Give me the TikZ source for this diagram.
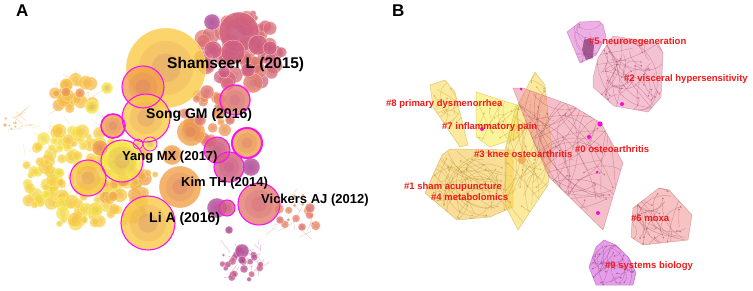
\documentclass[tikz,border=0pt]{standalone}
\usepackage{fontspec}
\setmainfont{Liberation Sans}
\definecolor{yl}{HTML}{F6E84C}
\definecolor{gd}{HTML}{FACB48}
\definecolor{og}{HTML}{F2A24A}
\definecolor{sa}{HTML}{E47E6E}
\definecolor{pk}{HTML}{D2607E}
\definecolor{pu}{HTML}{B24E98}
\definecolor{ring}{HTML}{FF10F0}
\definecolor{lblred}{HTML}{F21A1A}
\definecolor{hy}{HTML}{F8D850}
\definecolor{ho}{HTML}{F5C444}
\definecolor{hb}{HTML}{F8EC48}
\definecolor{hp}{HTML}{EE8C9C}
\definecolor{hr}{HTML}{EC90B0}
\definecolor{hv}{HTML}{E070D0}
\definecolor{hs}{HTML}{F09090}
\definecolor{hm}{HTML}{D050D8}
\tikzset{
  hot/.style={draw=ring, line width=1.1pt},
  cite/.style={font=\bfseries\fontsize{13}{13}\selectfont, text=black, inner sep=0pt, anchor=west},
  clus/.style={font=\bfseries\fontsize{9.5}{10}\selectfont, text=lblred, inner sep=0pt, anchor=west},
  panel/.style={font=\bfseries\fontsize{17}{17}\selectfont, inner sep=0pt, anchor=west},
}
% one cited paper: rings of citation years
\newcommand{\bub}[4]{%
  \fill[#4, fill opacity=0.8] (#1,#2) circle (#3pt);
  \fill[#4!70!pu, fill opacity=0.3] (#1,#2) circle ({0.68*#3pt});
  \fill[#4!50!pu, fill opacity=0.3] (#1,#2) circle ({0.36*#3pt});
  \draw[white, opacity=0.6, line width=0.4pt] (#1,#2) circle (#3pt);}
% cloud of small papers
\newcommand{\spray}[9]{%
  \foreach \k in {1,...,#5}{%
    \pgfmathsetmacro{\aa}{360*rnd}%
    \pgfmathsetmacro{\dd}{sqrt(rnd)}%
    \pgfmathsetmacro{\rr}{#6+(#7-#6)*rnd}%
    \pgfmathtruncatemacro{\mx}{100*rnd}%
    \fill[#8!\mx!#9, fill opacity=0.75] ({#1+#3*\dd*cos(\aa)},{#2+#4*\dd*sin(\aa)}) circle (\rr pt);
    \fill[#8!\mx!#9!75!pu, fill opacity=0.25] ({#1+#3*\dd*cos(\aa)},{#2+#4*\dd*sin(\aa)}) circle ({0.5*\rr pt});
    \draw[white, opacity=0.5, line width=0.3pt] ({#1+#3*\dd*cos(\aa)},{#2+#4*\dd*sin(\aa)}) circle (\rr pt);}}
% co-citation links
\newcommand{\web}[6]{%
  \foreach \k in {1,...,#5}{%
    \pgfmathsetmacro{\px}{#1+#3*rand}%
    \pgfmathsetmacro{\py}{#2+#4*rand}%
    \draw[#6, opacity=0.45, line width=0.35pt] (\px,\py) -- ({\px+14*rand},{\py+14*rand});}}
% cluster hull with its links
\newcommand{\cluster}[8]{%
  \fill[#2, fill opacity=0.55] #1;
  \begin{scope}
    \clip #1;
    \foreach \k in {1,...,#7}{%
      \pgfmathsetmacro{\bb}{70*rand}%
      \pgfmathsetmacro{\ax}{#3+#5*rand}\pgfmathsetmacro{\ay}{#4+#6*rand}%
      \pgfmathsetmacro{\bx}{#3+#5*rand}\pgfmathsetmacro{\by}{#4+#6*rand}%
      \draw[#8, opacity=0.45, line width=0.4pt] (\ax,\ay) to[bend left=\bb] (\bx,\by);
      \fill[#8, opacity=0.6] (\ax,\ay) circle (0.9pt);}
  \end{scope}
  \draw[#2!80!black, opacity=0.55, line width=0.5pt] #1;}
\begin{document}
\begin{tikzpicture}[x=1pt, y=-1pt]
\useasboundingbox[fill=white] (0,0) rectangle (753,290);
\pgfmathsetseed{11}
% ---- panel A: co-citation network
\node[panel] (labA) at (16,11) {A};
\web{75}{160}{50}{45}{60}{gd}
\web{20}{125}{15}{10}{10}{og}
\web{240}{50}{35}{30}{40}{pk}
\web{245}{262}{20}{18}{30}{pu}
\web{295}{215}{25}{18}{20}{sa}
\web{75}{92}{20}{18}{15}{og}
\spray{78}{178}{55}{52}{150}{3}{7.5}{yl}{gd}
\spray{75}{95}{22}{18}{22}{3}{7}{gd}{og}
\spray{12}{122}{8}{7}{7}{1}{2}{og}{gd}
\spray{130}{185}{28}{40}{50}{3}{7}{og}{gd}
\spray{240}{50}{42}{40}{60}{3}{9}{pk}{sa}
\spray{208}{118}{24}{28}{30}{3}{7}{sa}{og}
\spray{242}{262}{20}{20}{22}{1.5}{4}{pu}{pk}
\spray{300}{215}{22}{20}{14}{1.5}{5}{sa}{og}
\foreach \x/\y/\r/\c in {166/68/40/gd, 239/32/20/pk, 233/52/12/pk, 212/22/8/pu,
    213/50/9/pk, 258/45/10/pk, 270/48/7/pk, 253/83/10/sa, 248/70/7/pk, 224/72/6/pk,
    207/92/7/sa, 235/100/15/sa, 191/132/14/og, 180/187/21/og, 217/150/13/pk,
    229/167/15/pk, 251/167/9/pu, 247/143/15/og, 259/204/21/sa, 217/208/10/pu,
    227/208/8/pk, 242/251/7/pu, 143/87/21/og, 146/118/24/gd, 113/126/12/og,
    122/161/21/yl, 88/178/18/gd, 148/223/27/gd, 138/144/5/yl, 150/144/7/yl,
    92/107/7/yl, 107/88/6/yl, 66/92/5/og, 80/93/5/og, 100/148/8/og, 172/155/10/og,
    200/120/6/sa, 230/120/5/sa, 310/208/5/sa, 302/227/4/sa, 280/220/4/sa,
    229/230/4/pu, 242/260/4/pu}
  {\bub{\x}{\y}{\r}{\c}}
\foreach \x/\y/\r/\w in {143/87/21/1.1, 146/118/24/1.1, 113/126/12/1.6, 122/161/21/1.1,
    88/178/18/1.1, 148/223/27/1.1, 235/100/15/1.3, 247/143/15/2, 217/150/13/1.1,
    259/204/21/1.1, 229/167/15/1.1, 227/208/8/1.1, 138/144/5/0.8, 150/144/7/0.8}
  {\draw[hot, line width=\w pt] (\x,\y) circle (\r pt);}
\node[cite, font=\bfseries\fontsize{15.5}{16}\selectfont] (shamseer) at (167,64) {Shamseer L (2015)};
\node[cite, font=\bfseries\fontsize{14}{14}\selectfont] (song) at (146,115) {Song GM (2016)};
\node[cite] (yang) at (122,157) {Yang MX (2017)};
\node[cite] (kim) at (181,183) {Kim TH (2014)};
\node[cite] (vickers) at (261,200) {Vickers AJ (2012)};
\node[cite, font=\bfseries\fontsize{14}{14}\selectfont] (lia) at (149,219) {Li A (2016)};
% ---- panel B: clusters
\node[panel] (labB) at (392,11) {B};
\cluster{(430,85) -- (445,80) -- (455,92) -- (468,145) -- (460,147) -- (433,107) -- cycle}{hy}{448}{112}{15}{32}{18}{ho!80!black}
\cluster{(442,155) -- (450,149) -- (513,150) -- (513,207) -- (490,217) -- (457,220) -- (425,193) -- cycle}{ho}{470}{185}{42}{35}{45}{ho!75!black}
\cluster{(476,92) -- (517,105) -- (520,137) -- (490,147) -- (476,137) -- cycle}{hb}{497}{120}{22}{28}{15}{ho!80!black}
\cluster{(535,72) -- (545,85) -- (552,150) -- (548,185) -- (518,230) -- (505,205) -- (505,150) -- (515,110) -- cycle}{hy}{528}{150}{25}{80}{40}{ho!75!black}
\cluster{(513,88) -- (523,88) -- (573,106) -- (601,123) -- (623,163) -- (603,230) -- (549,177) -- (533,140) -- cycle}{hp}{570}{150}{55}{75}{60}{pk!80!black}
\cluster{(567,32) -- (580,22) -- (599,21) -- (603,25) -- (606,37) -- (596,55) -- (580,63) -- cycle}{hv}{587}{40}{18}{22}{15}{pu}
\cluster{(598,58) -- (613,36) -- (658,43) -- (663,53) -- (661,97) -- (648,112) -- (614,106) -- (593,87) -- (593,78) -- cycle}{hr}{628}{74}{35}{40}{45}{pk!80!black}
\cluster{(633,208) -- (659,188) -- (669,190) -- (692,215) -- (688,240) -- (643,245) -- (631,237) -- cycle}{hs}{660}{217}{30}{30}{30}{pk!80!black}
\cluster{(596,247) -- (604,240) -- (616,245) -- (629,258) -- (636,273) -- (633,285) -- (596,285) -- (589,267) -- cycle}{hm}{612}{265}{24}{22}{30}{pu!80!black}
\fill[pu!80!black, opacity=0.75] (584,40) -- (590,38) -- (594,45) -- (593,58) -- (586,60) -- (582,50) -- cycle;
\fill[og, opacity=0.8] (522,160) circle (4pt);
\foreach \x/\y/\r in {600/124/2.6, 589/137/2, 622/104/2, 482/129/2, 598/213/2, 521/89/1.5, 597/172/1.5}
  {\fill[ring!85!purple] (\x,\y) circle (\r pt);}
\node[clus] (c5) at (589,42) {\#5 neuroregeneration};
\node[clus] (c2) at (624,79) {\#2 visceral hypersensitivity};
\node[clus] (c8) at (386,104) {\#8 primary dysmenorrhea};
\node[clus] (c7) at (442,127) {\#7 inflammatory pain};
\node[clus] (c0) at (575,149) {\#0 osteoarthritis};
\node[clus] (c3) at (474,154) {\#3 knee osteoarthritis};
\node[clus] (c1) at (404,187) {\#1 sham acupuncture};
\node[clus] (c4) at (431,197) {\#4 metabolomics};
\node[clus] (c6) at (631,218) {\#6 moxa};
\node[clus] (c9) at (605,266) {\#9 systems biology};
\end{tikzpicture}
\end{document}
